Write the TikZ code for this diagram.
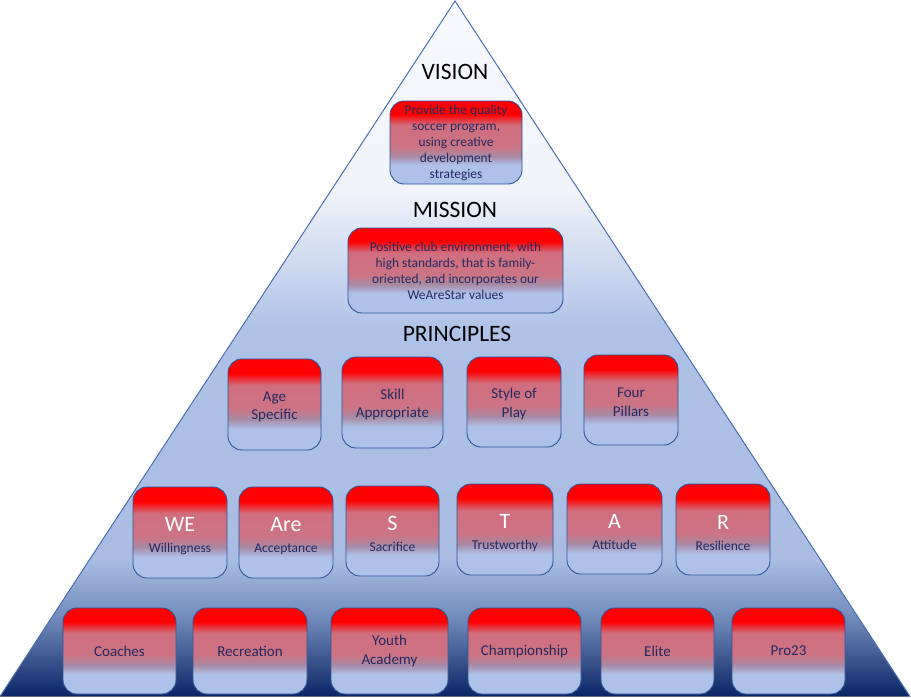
\documentclass[tikz,border=0pt]{standalone}
\usepackage{fontspec}
\setmainfont{Carlito}
\definecolor{boxred}{HTML}{FF0000}
\definecolor{boxpink}{HTML}{D06E7E}
\definecolor{boxpinkb}{HTML}{CC7484}
\definecolor{boxmauve}{HTML}{A889A4}
\definecolor{boxblue}{HTML}{AEC1E8}
\definecolor{boxline}{HTML}{2F5597}
\definecolor{txt}{HTML}{232A62}
\definecolor{pyrtop}{HTML}{F7F9FD}
\definecolor{pyrwhite}{HTML}{F0F3FA}
\definecolor{pyrlight}{HTML}{AEC2E6}
\definecolor{pyrlightb}{HTML}{A9BDE3}
\definecolor{pyrmid}{HTML}{6F88B8}
\definecolor{pyrdark}{HTML}{0B2466}
\definecolor{triedge}{HTML}{4A6FB0}
\pgfdeclareverticalshading{boxshade}{100bp}{color(0bp)=(boxblue); color(36.5bp)=(boxblue); color(42bp)=(boxmauve); color(47.5bp)=(boxpinkb); color(60.5bp)=(boxpink); color(67bp)=(boxred); color(100bp)=(boxred)}
\pgfdeclareverticalshading{pyrshade}{100bp}{color(0bp)=(pyrdark); color(25bp)=(pyrdark); color(30.5bp)=(pyrmid); color(34.8bp)=(pyrlightb); color(51.3bp)=(pyrlight); color(61.4bp)=(pyrwhite); color(75bp)=(pyrtop); color(100bp)=(pyrtop)}
\newcommand\starline[2]{{\fontsize{22}{22}\selectfont\color{white}\rule{0pt}{21pt}#1}\\[3pt]#2}
\newcommand\twoline[2]{\rule{0pt}{14pt}#1\\#2}
\tikzset{
  box/.style={shade, shading=boxshade, draw=boxline, line width=0.9pt, rounded corners=14pt, align=center, inner sep=0pt, text=txt},
  smalltxt/.style={font=\fontsize{13.4}{16}\selectfont},
  midtxt/.style={font=\fontsize{15}{18.5}\selectfont},
  lettxt/.style={font=\fontsize{13.5}{18}\selectfont},
  header/.style={inner sep=0pt, text=black, font=\fontsize{23.5}{26}\selectfont},
  prin/.style={box, midtxt, minimum width=94pt, minimum height=90pt},
  star/.style={box, lettxt, minimum width=94pt, minimum height=91pt},
  base/.style={box, midtxt, minimum width=113pt, minimum height=86pt}
}
\begin{document}
\begin{tikzpicture}[x=1pt, y=-1pt]
\useasboundingbox (0,0) rectangle (911,697);
\shade[shading=pyrshade] (0,696.5) -- (455,1) -- (910,696.5) -- cycle;
\draw[draw=triedge, line width=1pt] (0,696.5) -- (455,1) -- (910,696.5);

\node[header] (hvision) at (455,72) {VISION};
\node[header] (hmission) at (455,210) {MISSION};
\node[header] (hprin) at (457,334) {PRINCIPLES};

\node[box, smalltxt, minimum width=132pt, minimum height=83pt] (vision) at (456,142.5) {Provide the quality\\soccer program,\\using creative\\development\\strategies};
\node[box, smalltxt, minimum width=215pt, minimum height=85pt] (mission) at (455.5,270.5) {Positive club environment, with\\high standards, that is family-\\oriented, and incorporates our\\WeAreStar values};

\node[prin, minimum width=93pt, minimum height=91pt] (age) at (274.5,404.5) {\twoline{Age}{Specific}};
\node[prin, minimum width=101pt, minimum height=91pt] (skill) at (392.5,402.5) {\twoline{Skill}{Appropriate}};
\node[prin] (style) at (514,402) {\twoline{Style of}{Play}};
\node[prin] (four) at (631,400) {\twoline{Four}{Pillars}};

\node[star] (we) at (180,532.5) {\starline{WE}{Willingness}};
\node[star] (are) at (286,532.5) {\starline{Are}{Acceptance}};
\node[star, minimum width=93pt, minimum height=90pt] (s) at (392.5,531) {\starline{S}{Sacrifice}};
\node[star, minimum width=96pt] (t) at (505,529.5) {\starline{T}{Trustworthy}};
\node[star, minimum width=95pt, minimum height=90pt] (a) at (614.5,529) {\starline{A}{Attitude}};
\node[star] (r) at (723,529.5) {\starline{R}{Resilience}};

\node[base] (coaches) at (119.5,651) {Coaches};
\node[base, minimum width=114pt] (recreation) at (250,651) {Recreation};
\node[base, minimum width=117pt] (youth) at (389.5,651) {Youth\\Academy};
\node[base] (champ) at (524.5,651) {Championship};
\node[base] (elite) at (657.5,651) {Elite};
\node[base] (pro) at (788.5,651) {Pro23};
\end{tikzpicture}
\end{document}
